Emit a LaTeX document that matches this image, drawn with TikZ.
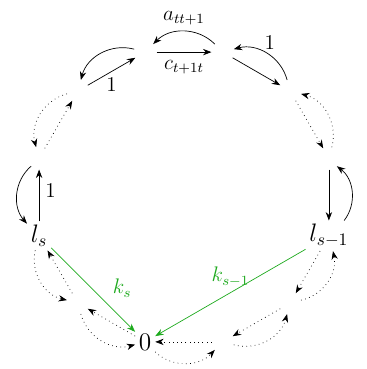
\documentclass[tikz,border=0pt]{standalone}
\usepackage{amsmath}
\usepackage{xcolor}
\usepackage{tikz}
\usetikzlibrary{arrows.meta}

\definecolor{kgreen}{RGB}{30,170,30}

\begin{document}
\begin{tikzpicture}[
        state/.style={circle, minimum size=4.4mm, inner sep=0pt},
        mainstate/.style={inner sep=2pt, font=\Large},
        back/.style={->, bend right=45},
        font=\large,
        >=Stealth
    ]
        \useasboundingbox (-3.68,-3.44) rectangle (3.66,3.94);

        \node[mainstate] (ls) at (195:3cm) {$l_s$};
        \node[state] (up1) at (165:3cm) {};
        \node[state] (up2) at (135:3cm) {};
        \node[state] (ct) at (105:3cm) {};
        \node[state] (ctn) at (75:3cm) {};
        \node[state] (up3) at (45:3cm) {};
        \node[state] (up4) at (15:3cm) {};
        \node[mainstate] (lsm) at (-15:3cm) {$l_{s-1}$};
        \node[state] (dn1) at (-45:3cm) {};
        \node[state] (dn2) at (-75:3cm) {};
        \node[mainstate] (zero) at (-105:3cm) {$0$};
        \node[state] (dn3) at (-135:3cm) {};

        % forward chain
        \draw[->] (ls) -- node[pos=0.6, right] {$1$} (up1);
        \draw[->, dotted] (up1) -- (up2);
        \draw[->] (up2) -- node[below] {$1$} (ct);
        \draw[->] (ct) -- node[below=1pt] {$c_{t+1t}$} (ctn);
        \draw[->] (ctn) -- (up3);
        \draw[->, dotted] (up3) -- (up4);
        \draw[->] (up4) -- (lsm);
        \draw[->, dotted] (lsm) -- (dn1);
        \draw[->, dotted] (dn1) -- (dn2);
        \draw[->, dotted] (dn2) -- (zero);
        \draw[->, dotted] (zero) -- (dn3);
        \draw[->, dotted] (dn3) -- (ls);

        % backward chain
        \draw[back] (up1) to (ls);
        \draw[back, dotted] (up2) to (up1);
        \draw[back] (ct) to (up2);
        \draw[back] (ctn) to node[above] {$a_{tt+1}$} (ct);
        \draw[back] (up3) to node[pos=0.45, above] {$1$} (ctn);
        \draw[back, dotted] (up4) to (up3);
        \draw[back] (lsm) to (up4);
        \draw[back, dotted] (dn1) to (lsm);
        \draw[back, dotted] (dn2) to (dn1);
        \draw[back, dotted] (zero) to (dn2);
        \draw[back, dotted] (dn3) to (zero);
        \draw[back, dotted] (ls) to (dn3);

        \draw[->, kgreen] (ls) -- node[pos=0.66, above right=0pt] {$k_s$} (zero);
        \draw[->, kgreen] (lsm) -- node[pos=0.5, above=0pt] {$k_{s-1}$} (zero);
    \end{tikzpicture}
\end{document}
